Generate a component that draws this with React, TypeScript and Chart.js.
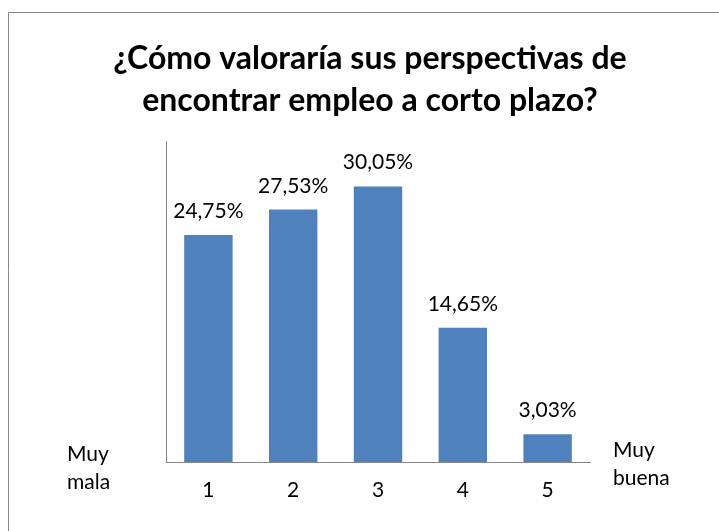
import React, { useEffect, useRef } from "react";
import { Chart, registerables } from "chart.js";

Chart.register(...registerables);

const categories = ["1", "2", "3", "4", "5"];
const values = [24.75, 27.53, 30.05, 14.65, 3.03];
const valueLabels = ["24,75%", "27,53%", "30,05%", "14,65%", "3,03%"];
const titleLines = ["¿Cómo valoraría sus perspectivas de", "encontrar empleo a corto plazo?"];
const leftLabel = ["Muy", "mala"];
const rightLabel = ["Muy", "buena"];

const BODY_FONT = "Lato, 'Open Sans', sans-serif";

const decorPlugin = {
  id: "decor",
  beforeDraw(chart: any) {
    const ctx = chart.ctx;
    ctx.save();
    ctx.strokeStyle = "#868686";
    ctx.lineWidth = 1;
    ctx.beginPath();
    ctx.moveTo(8.5, 531);
    ctx.lineTo(8.5, 12.5);
    ctx.lineTo(719, 12.5);
    ctx.stroke();
    ctx.restore();
  },
  afterDraw(chart: any) {
    const ctx = chart.ctx;
    ctx.save();
    ctx.fillStyle = "#000000";
    // title
    ctx.font = "bold 32px " + BODY_FONT;
    ctx.textAlign = "center";
    ctx.textBaseline = "alphabetic";
    ctx.fillText(titleLines[0], 370, 69);
    ctx.fillText(titleLines[1], 370, 111);
    // value labels
    ctx.font = "21px " + BODY_FONT;
    const meta = chart.getDatasetMeta(0);
    meta.data.forEach((bar: any, i: number) => {
      ctx.fillText(valueLabels[i], bar.x, bar.y - 17);
    });
    // side labels
    ctx.textAlign = "left";
    ctx.fillText(leftLabel[0], 67, 461);
    ctx.fillText(leftLabel[1], 67, 489);
    ctx.fillText(rightLabel[0], 613, 457);
    ctx.fillText(rightLabel[1], 613, 485);
    ctx.restore();
  },
};

export default function App() {
  const ref = useRef<HTMLCanvasElement | null>(null);
  useEffect(() => {
    document.body.style.margin = "0";
    const canvas = ref.current!;
    const chart = new Chart(canvas, {
      type: "bar",
      data: {
        labels: categories,
        datasets: [
          {
            data: values,
            backgroundColor: "#4F81BD",
            borderWidth: 0,
            barPercentage: 0.571,
            categoryPercentage: 1,
          },
        ],
      },
      options: {
        animation: false,
        responsive: false,
        devicePixelRatio: 1,
        layout: { padding: { left: 166, right: 129, top: 141, bottom: 0 } },
        plugins: {
          legend: { display: false },
          title: { display: false },
          tooltip: { enabled: false },
        },
        scales: {
          x: {
            grid: { display: false, drawTicks: false },
            border: { display: true, color: "#868686", width: 1 },
            ticks: {
              color: "#000000",
              font: { family: BODY_FONT, size: 21 },
              padding: 16,
              maxRotation: 0,
            },
            afterFit: (scale: any) => {
              scale.height = 69;
            },
          },
          y: {
            min: 0,
            max: 35,
            grid: { display: false, drawTicks: false },
            border: { display: true, color: "#868686", width: 1 },
            ticks: { display: false },
          },
        },
      },
      plugins: [decorPlugin],
    });
    return () => chart.destroy();
  }, []);
  return (
    <div style={{ width: 719, height: 531, background: "#ffffff" }}>
      <canvas ref={ref} width={719} height={531} style={{ width: 719, height: 531, display: "block" }} />
    </div>
  );
}
